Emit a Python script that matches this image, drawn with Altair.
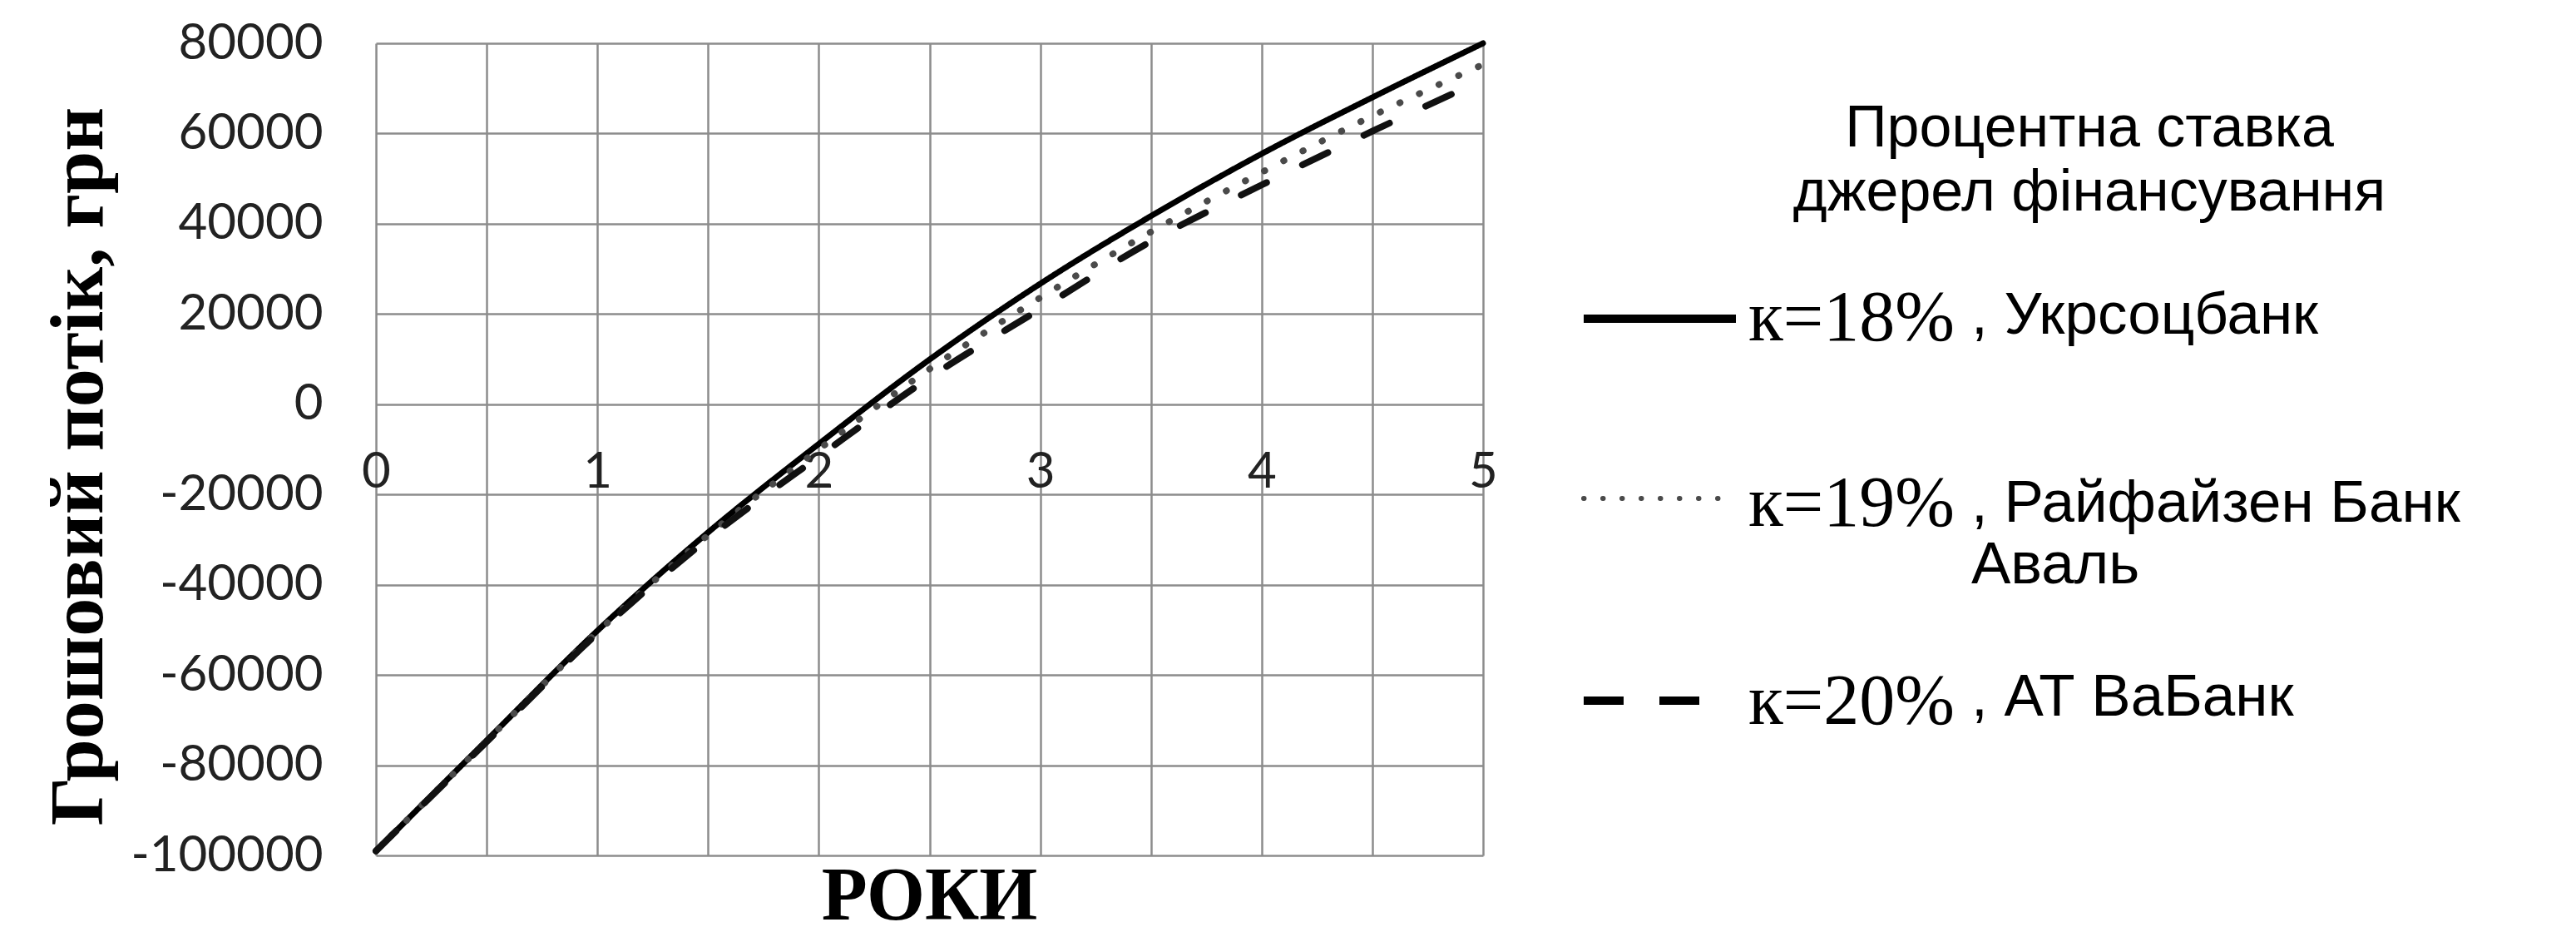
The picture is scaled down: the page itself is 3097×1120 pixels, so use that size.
import altair as alt
import pandas as pd

# ---------------- data ----------------
YEARS = [0, 0.5, 1, 1.5, 2, 2.5, 3, 3.5, 4, 4.5, 5]
NPV_18 = [-99000, -74500, -50200, -28400, -8800, 9900, 26700, 41700, 55500, 68000, 80000]
NPV_19 = [-99000, -74600, -50500, -29000, -10000, 7800, 23600, 38200, 51400, 63900, 75300]
NPV_20 = [-99000, -74800, -50800, -29800, -11600, 5900, 21100, 36100, 48600, 60500, 71900]

RATES = ["к=18%", "к=19%", "к=20%"]
BANKS = [" , Укрсоцбанк", ", Райфайзен Банк\nАваль", ", АТ ВаБанк"]
LEGEND_TITLE = ["Процентна ставка", "джерел фінансування"]

Y_TICKS = [-100000, -80000, -60000, -40000, -20000, 0, 20000, 40000, 60000, 80000]
X_GRID = [0, 0.5, 1, 1.5, 2, 2.5, 3, 3.5, 4, 4.5, 5]
X_TITLE = "РОКИ"
Y_TITLE = "Грошовий потік, грн"

# ---------------- layout / styles ----------------
W, H = 1331, 976
ZERO_OFFSET = -round(H * 100000 / 180000)
GRID = "#8c8c8c"
LABEL_FONT = "Lato"
SERIF = "Liberation Serif"
SANS = "Liberation Sans"

styles = [
    dict(color="#000000", strokeDash=[1, 0], strokeWidth=7),
    dict(color="#4a4a4a", strokeDash=[0.5, 25.5], strokeWidth=8),
    dict(color="#111111", strokeDash=[34, 48], strokeWidth=8),
]

x_enc = alt.X(
    "t:Q",
    scale=alt.Scale(domain=[0, 5], nice=False, zero=False),
    axis=alt.Axis(
        values=X_GRID,
        labelExpr="datum.value % 1 == 0 ? '' + datum.value : ''",
        offset=ZERO_OFFSET, grid=True, gridColor=GRID, gridWidth=2.5,
        domain=False, ticks=False, tickSize=0, labelPadding=52,
        labelFlush=False, labelOverlap=False,
        labelFont=LABEL_FONT, labelFontSize=60, labelColor="#222222",
        title=None,
    ),
)
y_enc = alt.Y(
    "v:Q",
    scale=alt.Scale(domain=[-100000, 80000], nice=False, zero=False),
    axis=alt.Axis(
        values=Y_TICKS, labelExpr="'' + datum.value",
        grid=True, gridColor=GRID, gridWidth=2.5,
        domain=False, ticks=False, tickSize=0, labelPadding=64,
        labelLimit=0, labelOverlap=False,
        labelFont=LABEL_FONT, labelFontSize=60, labelColor="#222222",
        title=Y_TITLE, titleFont=SERIF, titleFontWeight="bold",
        titleFontSize=92, titleColor="#000000", titlePadding=111,
        titleY=H / 2 + 20,
    ),
)

layers = []
for rate, vals, st in zip(RATES, [NPV_18, NPV_19, NPV_20], styles):
    d = pd.DataFrame({"t": YEARS, "v": vals, "series": rate})
    layers.append(
        alt.Chart(d).mark_line(
            interpolate="monotone", strokeCap="round", color=st["color"],
            strokeDash=st["strokeDash"], strokeWidth=st["strokeWidth"],
        ).encode(x=x_enc, y=y_enc)
    )

# ---------------- legend (drawn beside the plot) ----------------
one = pd.DataFrame({"k": [0]})
layers.append(
    alt.Chart(one).mark_text(
        font=SANS, fontSize=70, align="center", baseline="alphabetic",
        lineHeight=77, color="#000000",
    ).encode(x=alt.value(2060), y=alt.value(124), text=alt.value(LEGEND_TITLE))
)

sym_y = [331, 547, 790]
sym_x2 = [1635, 1619, 1591]
sym_style = [
    dict(color="#000000", strokeWidth=10, strokeCap="butt"),
    dict(color="#4a4a4a", strokeWidth=6, strokeCap="round", strokeDash=[0.5, 22.5]),
    dict(color="#000000", strokeWidth=10, strokeCap="butt", strokeDash=[48, 43]),
]
serif_y = [357, 580, 818]
sans_y = [349, 575, 808]
for i in range(3):
    layers.append(
        alt.Chart(one).mark_rule(**sym_style[i]).encode(
            x=alt.value(1452), x2=alt.value(sym_x2[i]), y=alt.value(sym_y[i])
        )
    )
    layers.append(
        alt.Chart(pd.DataFrame({"lab": [RATES[i]]})).mark_text(
            font=SERIF, fontSize=86, align="left", baseline="alphabetic", color="#000000"
        ).encode(x=alt.value(1650), y=alt.value(serif_y[i]), text="lab:N")
    )
    layers.append(
        alt.Chart(pd.DataFrame({"lab": [BANKS[i]]})).mark_text(
            font=SANS, fontSize=71, align="left", baseline="alphabetic",
            lineBreak="\n", lineHeight=74, color="#000000"
        ).encode(x=alt.value(1918), y=alt.value(sans_y[i]), text="lab:N")
    )

chart = alt.layer(*layers).properties(
    width=W,
    height=H,
    padding={"left": 40, "top": 14, "right": 5, "bottom": 0},
    title=alt.TitleParams(
        X_TITLE, orient="bottom", anchor="middle", frame="group",
        font=SERIF, fontWeight="bold", fontSize=90, color="#000000", offset=-24,
    ),
).configure_view(stroke=None)

chart.save("out.html", embed_options={"renderer": "svg", "actions": False})
